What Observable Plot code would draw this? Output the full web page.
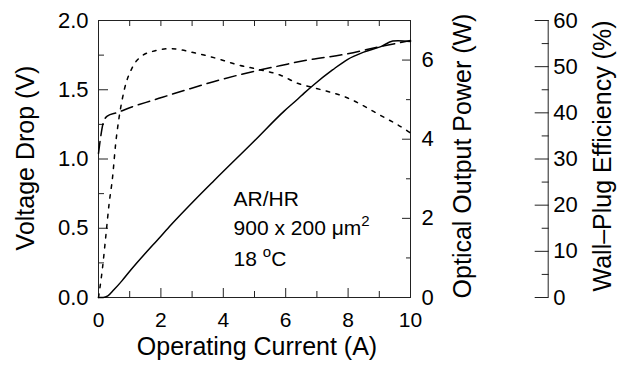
<!DOCTYPE html>
<html>
<head>
<meta charset="utf-8">
<script src="https://cdn.jsdelivr.net/npm/d3@7"></script>
<script src="https://cdn.jsdelivr.net/npm/@observablehq/plot@0.6"></script>
<style>
  html, body { margin: 0; padding: 0; background: #fff; }
</style>
</head>
<body>
<div id="chart"></div>
<script>
// ---- scale maxima of the three y axes ----
const V_MAX = 2;    // Voltage Drop (V)
const P_MAX = 7;    // Optical Output Power (W)
const E_MAX = 60;   // Wall-Plug Efficiency (%)

// ---- Voltage drop (dashed) ----
const voltageCurrent = [0, 0.07, 0.15, 0.28, 0.6, 1.0, 1.68, 2.05, 2.75, 3.82, 5.2, 5.85, 6.49, 7.99, 9.0, 10];
const voltage        = [1.04, 1.16, 1.26, 1.31, 1.335, 1.37, 1.42, 1.446, 1.495, 1.567, 1.644, 1.675, 1.706, 1.76, 1.81, 1.855];

// ---- Optical output power (solid) ----
const powerCurrent = [0, 0.15, 0.3, 0.5, 0.75, 1.04, 2.0, 2.32, 3.07, 3.7, 5.0, 5.95, 6.38, 6.6, 6.92, 7.5, 7.99, 8.5, 9.05, 9.43, 9.6, 10];
const power        = [0, 0, 0.04, 0.2, 0.42, 0.7, 1.55, 1.83, 2.45, 2.95, 3.96, 4.71, 5.01, 5.17, 5.39, 5.75, 6.02, 6.2, 6.34, 6.48, 6.49, 6.47];

// ---- Wall-plug efficiency (dotted) ----
const effCurrent = [0, 0.13, 0.23, 0.34, 0.45, 0.55, 0.66, 0.82, 1.09, 1.41, 1.73, 2.32, 3.07, 4.03, 4.35, 5.2, 5.85, 6.38, 6.81, 7.99, 9.05, 9.96, 10];
const efficiency = [0, 6.5, 13, 20.3, 26, 33.3, 39, 44.8, 49.9, 52.4, 53.3, 53.9, 53.0, 51.3, 50.6, 49.3, 48.1, 46.4, 45.6, 43.2, 39.4, 35.8, 35.6];

// ---- ticks ----
const xMajorTicks = [0, 2, 4, 6, 8, 10];
const xMinorTicks = [1, 3, 5, 7, 9];
const xTopTicks = [1, 2, 3, 4, 5, 6, 7, 8, 9];
const vMajorTicks = [0, 0.5, 1.0, 1.5, 2.0];
const vMinorTicks = [0.25, 0.75, 1.25, 1.75];
const pMajorTicks = [0, 2, 4, 6];
const pMinorTicks = [1, 3, 5, 7];
const eMajorTicks = [0, 10, 20, 30, 40, 50, 60];
const eMinorTicks = [5, 15, 25, 35, 45, 55];

// ---- texts ----
const xTitle = "Operating Current (A)";
const vTitle = "Voltage Drop (V)";
const pTitle = "Optical Output Power (W)";
const eTitle = "Wall\u2013Plug Efficiency (%)";
const noteLines = ["AR/HR", "900 x 200 \u03bcm^2", "18 ^oC"];
const noteCurrent = [4.33, 4.33, 4.33];
const noteVoltage = [0.664, 0.448, 0.231];

// map secondary-axis values into the shared (voltage) y scale
const pToY = p => p * V_MAX / P_MAX;
const eToY = e => e * V_MAX / E_MAX;

const voltageData = voltageCurrent.map((x, i) => ({x, y: voltage[i]}));
const powerData = powerCurrent.map((x, i) => ({x, y: pToY(power[i])}));
const effData = effCurrent.map((x, i) => ({x, y: eToY(efficiency[i])}));
const noteData = noteLines.map((t, i) => ({t, x: noteCurrent[i], y: noteVoltage[i]}));

const EFF_AXIS_DX = 137.7;
const font = "'Liberation Sans', Arial, Helvetica, sans-serif";

const chart = Plot.plot({
  width: 628,
  height: 374,
  marginLeft: 98,
  marginRight: 218,
  marginTop: 20,
  marginBottom: 77,
  style: {fontFamily: font, fontSize: "22px", color: "#000", background: "#fff"},
  x: {domain: [0, 10]},
  y: {domain: [0, V_MAX]},
  marks: [
    Plot.frame({stroke: "#222"}),
    // left voltage axis
    Plot.axisY(vMajorTicks, {anchor: "left", tickSize: -10, tickPadding: 20, tickFormat: d3.format(".1f"), label: null, stroke: "#222"}),
    Plot.axisY(vMinorTicks, {anchor: "left", tickSize: -6, fill: "none", label: null, stroke: "#222"}),
    // right power axis
    Plot.axisY(pMajorTicks.map(pToY), {anchor: "right", tickSize: -9, tickPadding: 20, tickFormat: d => String(Math.round(d * P_MAX / V_MAX)), label: null, stroke: "#222"}),
    Plot.axisY(pMinorTicks.map(pToY), {anchor: "right", tickSize: -5, fill: "none", label: null, stroke: "#222"}),
    // detached efficiency axis
    Plot.ruleX([10], {y1: 0, y2: V_MAX, dx: EFF_AXIS_DX, stroke: "#222"}),
    Plot.axisY(eMajorTicks.map(eToY), {anchor: "right", dx: EFF_AXIS_DX, tickSize: -14, tickPadding: 19, tickFormat: d => String(Math.round(d * E_MAX / V_MAX)), label: null, stroke: "#222"}),
    Plot.axisY(eMinorTicks.map(eToY), {anchor: "right", dx: EFF_AXIS_DX, tickSize: -7, fill: "none", label: null, stroke: "#222"}),
    // x axes
    Plot.axisX(xMajorTicks, {anchor: "bottom", tickSize: -9, tickPadding: 24, fontSize: 21, label: null, stroke: "#222"}),
    Plot.axisX(xMinorTicks, {anchor: "bottom", tickSize: -6, fill: "none", label: null, stroke: "#222"}),
    Plot.axisX(xTopTicks, {anchor: "top", tickSize: -5, fill: "none", label: null, stroke: "#222"}),
    // curves
    Plot.line(voltageData, {x: "x", y: "y", stroke: "#000", strokeWidth: 1.5, strokeDasharray: "12,6", curve: "monotone-x"}),
    Plot.line(effData, {x: "x", y: "y", stroke: "#000", strokeWidth: 1.5, strokeDasharray: "3.5,6.5", curve: "monotone-x"}),
    Plot.line(powerData, {x: "x", y: "y", stroke: "#000", strokeWidth: 1.5, curve: "monotone-x"}),
    // annotation
    Plot.text(noteData, {x: "x", y: "y", text: "t", textAnchor: "start", lineAnchor: "bottom", fontSize: 21, fill: "#000"}),
    // axis titles
    Plot.text([xTitle], {frameAnchor: "bottom", textAnchor: "middle", dx: 2.5, dy: 57, lineAnchor: "bottom", fontSize: 25, fill: "#000"}),
    Plot.text([vTitle], {frameAnchor: "left", textAnchor: "middle", rotate: -90, dx: -64.5, dy: -1, lineAnchor: "bottom", fontSize: 25, fill: "#000"}),
    Plot.text([pTitle], {frameAnchor: "right", textAnchor: "middle", rotate: -90, dx: 60, dy: -3, lineAnchor: "bottom", fontSize: 25, fill: "#000"}),
    Plot.text([eTitle], {frameAnchor: "right", textAnchor: "middle", rotate: -90, dx: 200.5, dy: -3, lineAnchor: "bottom", fontSize: 25, fill: "#000"})
  ]
});

// superscripts: "^x" marks a raised, smaller character
const NS = "http://www.w3.org/2000/svg";
chart.querySelectorAll("text").forEach(t => {
  const s = t.textContent;
  if (!s.includes("^")) return;
  const parts = s.split(/\^(.)/);
  t.textContent = "";
  let raised = false;
  parts.forEach((p, i) => {
    if (!p) return;
    const ts = document.createElementNS(NS, "tspan");
    ts.textContent = p;
    if (i % 2 === 1) {
      ts.setAttribute("dy", "-9");
      ts.setAttribute("font-size", "15");
      raised = true;
    } else if (raised) {
      ts.setAttribute("dy", "9");
      raised = false;
    }
    t.appendChild(ts);
  });
});

document.getElementById("chart").appendChild(chart);
</script>
</body>
</html>
